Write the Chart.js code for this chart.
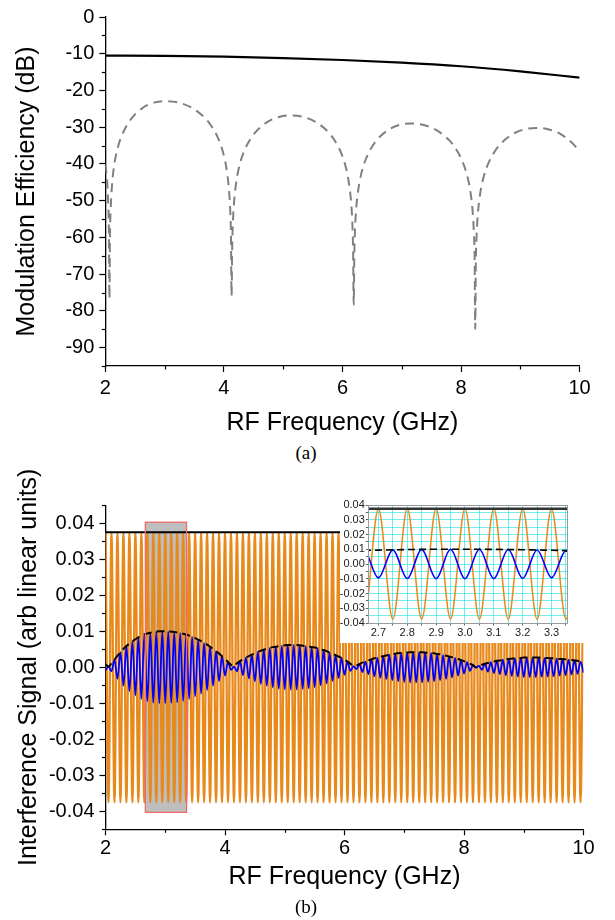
<!DOCTYPE html>
<html><head><meta charset="utf-8">
<script src="https://cdn.jsdelivr.net/npm/chart.js@4.4.1/dist/chart.umd.min.js"></script>
<style>
html,body{margin:0;padding:0;background:#fff;}
body{width:615px;height:920px;overflow:hidden;position:relative}
canvas{position:absolute;display:block}
#cTop{left:0;top:0}
#cBot{left:0;top:470px}
#cIn{left:340px;top:490px;background:#fff}
.cap{position:absolute;font-family:"Liberation Serif","Times New Roman",serif;font-size:19px;color:#000;width:60px;text-align:center;line-height:20px}
</style></head><body>
<canvas id="cTop" width="615" height="440"></canvas>
<div class="cap" style="left:276px;top:443px">(a)</div>
<canvas id="cBot" width="615" height="430"></canvas>
<canvas id="cIn" width="275" height="153"></canvas>
<div class="cap" style="left:276px;top:897px">(b)</div>
<script>
// ---------- (a) Modulation efficiency ----------
const solidFreq = [2, 3, 4, 5, 6, 7, 8, 9, 10];
const solidDb = [-10.5, -10.6, -10.8, -11.2, -11.7, -12.4, -13.4, -14.8, -16.5];

const dashFreq = [2.00,2.03,2.05,2.06,2.07,
 2.079,2.089,2.108,2.145,2.202,2.258,2.352,2.446,2.634,2.822,3.01,3.234,3.458,3.682,3.794,3.906,3.973,4.040,4.085,4.108,4.119,4.13,
 4.14,4.15,4.17,4.21,4.27,4.33,4.43,4.53,4.73,4.93,5.13,5.342,5.554,5.766,5.872,5.978,6.042,6.105,6.148,6.169,6.179,6.19,
 6.200,6.209,6.228,6.267,6.324,6.382,6.478,6.574,6.766,6.958,7.15,7.368,7.586,7.804,7.913,8.022,8.087,8.153,8.196,8.218,8.229,8.24,
 8.250,8.261,8.281,8.322,8.384,8.446,8.549,8.652,8.858,9.064,9.27,9.482,9.694,9.906,10.0];
const dashDb = [-40.2,-44.5,-51,-57,-76.6,
 -59.0,-53.0,-46.9,-40.9,-36.1,-33.1,-29.8,-27.5,-24.7,-23.3,-22.9,-23.3,-24.7,-27.5,-29.8,-33.1,-36.1,-40.9,-46.9,-53.0,-59.0,-75.9,
 -62.9,-56.9,-50.8,-44.8,-40.0,-37.0,-33.7,-31.4,-28.6,-27.2,-26.8,-27.2,-28.6,-31.4,-33.7,-37.0,-40.0,-44.8,-50.8,-56.9,-62.9,-78.3,
 -65.1,-59.1,-53.0,-47.0,-42.2,-39.2,-35.9,-33.6,-30.8,-29.4,-29.0,-29.4,-30.8,-33.6,-35.9,-39.2,-42.2,-47.0,-53.0,-59.1,-65.1,-84.9,
 -66.3,-60.3,-54.2,-48.2,-43.4,-40.4,-37.1,-34.8,-32.0,-30.6,-30.2,-30.6,-32.0,-34.8,-36.7];

const topXTicks = [2, 4, 6, 8, 10];
const topXMinor = [3, 5, 7, 9];
const topYTicks = [0, -10, -20, -30, -40, -50, -60, -70, -80, -90];
const topYMinor = [-5, -15, -25, -35, -45, -55, -65, -75, -85, -95];

// ---------- (b) Interference signal ----------
const freqGHz = [
 2.00,2.05,2.10,2.15,2.20,2.25,2.30,2.35,2.40,2.45,2.50,2.55,2.60,2.65,2.70,2.75,2.80,2.85,2.90,2.95,
 3.00,3.05,3.10,3.15,3.20,3.25,3.30,3.35,3.40,3.45,3.50,3.55,3.60,3.65,3.70,3.75,3.80,3.85,3.90,3.95,
 4.00,4.05,4.10,4.15,4.20,4.25,4.30,4.35,4.40,4.45,4.50,4.55,4.60,4.65,4.70,4.75,4.80,4.85,4.90,4.95,
 5.00,5.05,5.10,5.15,5.20,5.25,5.30,5.35,5.40,5.45,5.50,5.55,5.60,5.65,5.70,5.75,5.80,5.85,5.90,5.95,
 6.00,6.05,6.10,6.15,6.20,6.25,6.30,6.35,6.40,6.45,6.50,6.55,6.60,6.65,6.70,6.75,6.80,6.85,6.90,6.95,
 7.00,7.05,7.10,7.15,7.20,7.25,7.30,7.35,7.40,7.45,7.50,7.55,7.60,7.65,7.70,7.75,7.80,7.85,7.90,7.95,
 8.00,8.05,8.10,8.15,8.20,8.25,8.30,8.35,8.40,8.45,8.50,8.55,8.60,8.65,8.70,8.75,8.80,8.85,8.90,8.95,
 9.00,9.05,9.10,9.15,9.20,9.25,9.30,9.35,9.40,9.45,9.50,9.55,9.60,9.65,9.70,9.75,9.80,9.85,9.90,9.95,
 10.00];

// orange trace: extremes of the reference arm signal
const orangeSig = [
 0.0375,-0.0375,0.0375,-0.0375,0.0375,-0.0375,0.0375,-0.0375,0.0375,-0.0375,0.0375,-0.0375,0.0375,-0.0375,0.0375,-0.0375,0.0375,-0.0375,0.0375,-0.0375,
 0.0375,-0.0375,0.0375,-0.0375,0.0375,-0.0375,0.0375,-0.0375,0.0375,-0.0375,0.0375,-0.0375,0.0375,-0.0375,0.0375,-0.0375,0.0375,-0.0375,0.0375,-0.0375,
 0.0375,-0.0375,0.0375,-0.0375,0.0375,-0.0375,0.0375,-0.0375,0.0375,-0.0375,0.0375,-0.0375,0.0375,-0.0375,0.0375,-0.0375,0.0375,-0.0375,0.0375,-0.0375,
 0.0375,-0.0375,0.0375,-0.0375,0.0375,-0.0375,0.0375,-0.0375,0.0375,-0.0375,0.0375,-0.0375,0.0375,-0.0375,0.0375,-0.0375,0.0375,-0.0375,0.0375,-0.0375,
 0.0375,-0.0375,0.0375,-0.0375,0.0375,-0.0375,0.0375,-0.0375,0.0375,-0.0375,0.0375,-0.0375,0.0375,-0.0375,0.0375,-0.0375,0.0375,-0.0375,0.0375,-0.0375,
 0.0375,-0.0375,0.0375,-0.0375,0.0375,-0.0375,0.0375,-0.0375,0.0375,-0.0375,0.0375,-0.0375,0.0375,-0.0375,0.0375,-0.0375,0.0375,-0.0375,0.0375,-0.0375,
 0.0375,-0.0375,0.0375,-0.0375,0.0375,-0.0375,0.0375,-0.0375,0.0375,-0.0375,0.0375,-0.0375,0.0375,-0.0375,0.0375,-0.0375,0.0375,-0.0375,0.0375,-0.0375,
 0.0375,-0.0375,0.0375,-0.0375,0.0375,-0.0375,0.0375,-0.0375,0.0375,-0.0375,0.0375,-0.0375,0.0375,-0.0375,0.0375,-0.0375,0.0375,-0.0375,0.0375,-0.0375,
 0.0375];

// blue trace: extremes of the interference signal
const blueSig = [
 -0.0008,0.0002,-0.0011,0.0021,-0.0032,0.0042,-0.0051,0.0059,-0.0066,0.0072,-0.0078,0.0083,-0.0088,0.0092,-0.0094,0.0096,-0.0098,0.0099,-0.0100,0.0100,
 -0.0100,0.0100,-0.0099,0.0098,-0.0097,0.0095,-0.0093,0.0091,-0.0088,0.0085,-0.0081,0.0077,-0.0073,0.0068,-0.0063,0.0057,-0.0051,0.0045,-0.0038,0.0031,
 -0.0023,0.0015,-0.0007,0.0002,-0.0011,0.0017,-0.0022,0.0027,-0.0031,0.0035,-0.0039,0.0043,-0.0046,0.0049,-0.0051,0.0054,-0.0056,0.0057,-0.0059,0.0060,
 -0.0061,0.0062,-0.0062,0.0062,-0.0062,0.0061,-0.0060,0.0059,-0.0058,0.0056,-0.0055,0.0053,-0.0050,0.0048,-0.0045,0.0041,-0.0038,0.0034,-0.0030,0.0026,
 -0.0021,0.0016,-0.0010,0.0003,-0.0005,0.0009,-0.0013,0.0016,-0.0019,0.0022,-0.0025,0.0027,-0.0029,0.0031,-0.0033,0.0035,-0.0036,0.0038,-0.0039,0.0040,
 -0.0041,0.0041,-0.0042,0.0042,-0.0042,0.0042,-0.0042,0.0041,-0.0040,0.0040,-0.0039,0.0037,-0.0036,0.0034,-0.0032,0.0030,-0.0028,0.0026,-0.0023,0.0020,
 -0.0017,0.0014,-0.0010,0.0006,-0.0001,0.0004,-0.0007,0.0010,-0.0012,0.0014,-0.0016,0.0018,-0.0019,0.0021,-0.0022,0.0023,-0.0024,0.0025,-0.0026,0.0026,
 -0.0027,0.0027,-0.0027,0.0027,-0.0027,0.0027,-0.0026,0.0026,-0.0026,0.0025,-0.0025,0.0024,-0.0023,0.0023,-0.0022,0.0021,-0.0020,0.0019,-0.0018,0.0016,
 -0.0015];

// black dashed envelope of the blue trace
const envelope = [
 0.0008,0.0002,0.0011,0.0021,0.0032,0.0042,0.0051,0.0059,0.0066,0.0072,0.0078,0.0083,0.0088,0.0092,0.0094,0.0096,0.0098,0.0099,0.0100,0.0100,
 0.0100,0.0100,0.0099,0.0098,0.0097,0.0095,0.0093,0.0091,0.0088,0.0085,0.0081,0.0077,0.0073,0.0068,0.0063,0.0057,0.0051,0.0045,0.0038,0.0031,
 0.0023,0.0015,0.0007,0.0002,0.0011,0.0017,0.0022,0.0027,0.0031,0.0035,0.0039,0.0043,0.0046,0.0049,0.0051,0.0054,0.0056,0.0057,0.0059,0.0060,
 0.0061,0.0062,0.0062,0.0062,0.0062,0.0061,0.0060,0.0059,0.0058,0.0056,0.0055,0.0053,0.0050,0.0048,0.0045,0.0041,0.0038,0.0034,0.0030,0.0026,
 0.0021,0.0016,0.0010,0.0003,0.0005,0.0009,0.0013,0.0016,0.0019,0.0022,0.0025,0.0027,0.0029,0.0031,0.0033,0.0035,0.0036,0.0038,0.0039,0.0040,
 0.0041,0.0041,0.0042,0.0042,0.0042,0.0042,0.0042,0.0041,0.0040,0.0040,0.0039,0.0037,0.0036,0.0034,0.0032,0.0030,0.0028,0.0026,0.0023,0.0020,
 0.0017,0.0014,0.0010,0.0006,0.0000,0.0004,0.0007,0.0010,0.0012,0.0014,0.0016,0.0018,0.0019,0.0021,0.0022,0.0023,0.0024,0.0025,0.0026,0.0026,
 0.0027,0.0027,0.0027,0.0027,0.0027,0.0027,0.0026,0.0026,0.0026,0.0025,0.0025,0.0024,0.0023,0.0023,0.0022,0.0021,0.0020,0.0019,0.0018,0.0016,
 0.0015];

// black solid level line
const levelFreq = [2, 10];
const levelSig = [0.0375, 0.0375];

// highlighted (zoomed) region
const boxFreq = [2.667, 3.357];
const boxSig = [-0.0403, 0.0403];

const botXTicks = [2, 4, 6, 8, 10];
const botXMinor = [3, 5, 7, 9];
const botYTicks = [0.04, 0.03, 0.02, 0.01, 0, -0.01, -0.02, -0.03, -0.04];
const botYMinor = [0.045, 0.035, 0.025, 0.015, 0.005, -0.005, -0.015, -0.025, -0.035, -0.045];

// inset
const insetXRange = [2.665, 3.355];
const insetYRange = [-0.04, 0.04];
const insetXGrid = [2.70,2.75,2.80,2.85,2.90,2.95,3.00,3.05,3.10,3.15,3.20,3.25,3.30,3.35];
const insetXLabels = [2.7, 2.8, 2.9, 3.0, 3.1, 3.2, 3.3];
const insetYGrid = [0.04,0.035,0.03,0.025,0.02,0.015,0.01,0.005,0,-0.005,-0.01,-0.015,-0.02,-0.025,-0.03,-0.035,-0.04];
const insetYLabels = [0.04,0.03,0.02,0.01,0,-0.01,-0.02,-0.03,-0.04];

// ---------- rendering ----------
const FAMILY = "'Liberation Sans', Arial, Helvetica, sans-serif";
Chart.defaults.font.family = FAMILY;
Chart.defaults.color = '#000';

const pts = (xs, ys) => xs.map((x, i) => ({x: x, y: ys[i]}));
const near = (arr, v) => arr.some(a => Math.abs(a - v) < 1e-6);

const minorTicksPlugin = {
  id: 'minorTicks',
  afterDraw(chart, args, o) {
    const {ctx, scales} = chart;
    ctx.save();
    ctx.strokeStyle = o.color || '#000';
    ctx.lineWidth = o.width || 1.2;
    (o.x || []).forEach(v => {
      const px = Math.round(scales.x.getPixelForValue(v)) + 0.5;
      ctx.beginPath(); ctx.moveTo(px, scales.x.top); ctx.lineTo(px, scales.x.top + o.len); ctx.stroke();
    });
    (o.y || []).forEach(v => {
      const py = Math.round(scales.y.getPixelForValue(v)) + 0.5;
      ctx.beginPath(); ctx.moveTo(scales.y.right, py); ctx.lineTo(scales.y.right - o.len, py); ctx.stroke();
    });
    ctx.restore();
  }
};

const zoomBoxPlugin = {
  id: 'zoomBox',
  beforeDatasetsDraw(chart, args, o) {
    if (!o.x) return;
    const {ctx, scales} = chart;
    const x0 = scales.x.getPixelForValue(o.x[0]), x1 = scales.x.getPixelForValue(o.x[1]);
    const y0 = scales.y.getPixelForValue(o.y[1]), y1 = scales.y.getPixelForValue(o.y[0]);
    ctx.save(); ctx.fillStyle = o.fill; ctx.fillRect(x0, y0, x1 - x0, y1 - y0); ctx.restore();
  },
  afterDatasetsDraw(chart, args, o) {
    if (!o.x) return;
    const {ctx, scales} = chart;
    const x0 = scales.x.getPixelForValue(o.x[0]), x1 = scales.x.getPixelForValue(o.x[1]);
    const y0 = scales.y.getPixelForValue(o.y[1]), y1 = scales.y.getPixelForValue(o.y[0]);
    ctx.save(); ctx.strokeStyle = o.stroke; ctx.lineWidth = 1.3; ctx.strokeRect(x0, y0, x1 - x0, y1 - y0); ctx.restore();
  }
};

const framePlugin = {
  id: 'frame',
  afterDraw(chart, args, o) {
    if (!o.color) return;
    const {ctx, chartArea: a} = chart;
    ctx.save(); ctx.strokeStyle = o.color; ctx.lineWidth = 1;
    ctx.strokeRect(Math.round(a.left) + 0.5, Math.round(a.top) + 0.5, Math.round(a.right - a.left), Math.round(a.bottom - a.top));
    ctx.restore();
  }
};

function mainAxes(cfg) {
  return {
    x: {
      type: 'linear', min: 2, max: 10,
      afterBuildTicks: s => { s.ticks = cfg.xTicks.map(v => ({value: v})); },
      afterFit: s => { s.height = cfg.xHeight; },
      grid: {drawOnChartArea: false, drawTicks: true, tickLength: 6, tickWidth: 1.2, tickColor: '#000'},
      border: {display: true, color: '#000', width: 1.3},
      ticks: {padding: cfg.xPad, autoSkip: false, maxRotation: 0, color: '#000', font: {size: 20}, callback: v => String(v)},
      title: {display: true, text: 'RF Frequency (GHz)', color: '#000', font: {size: 25}, padding: {top: 0, bottom: cfg.xTitlePad}}
    },
    y: {
      type: 'linear', min: cfg.yMin, max: cfg.yMax,
      afterBuildTicks: s => { s.ticks = cfg.yTicks.map(v => ({value: v})); },
      afterFit: s => { s.width = cfg.yWidth; },
      grid: {drawOnChartArea: false, drawTicks: true, tickLength: 6, tickWidth: 1.2, tickColor: '#000'},
      border: {display: true, color: '#000', width: 1.3},
      ticks: {padding: 5, autoSkip: false, color: '#000', font: {size: 20}, callback: cfg.yFmt},
      title: {display: true, text: cfg.yTitle, color: '#000', font: {size: 25}, padding: {top: cfg.yTitlePad, bottom: 0}}
    }
  };
}

// (a)
new Chart(document.getElementById('cTop'), {
  type: 'scatter',
  data: {datasets: [
    {data: pts(solidFreq, solidDb), showLine: true, borderColor: '#000', borderWidth: 2.2, pointRadius: 0, cubicInterpolationMode: 'monotone'},
    {data: pts(dashFreq, dashDb), showLine: true, borderColor: '#808080', borderWidth: 2, borderDash: [9, 6], pointRadius: 0, cubicInterpolationMode: 'monotone'}
  ]},
  options: {
    responsive: false, animation: false, devicePixelRatio: 1,
    layout: {padding: {left: 0, right: 35.4, top: 14.3, bottom: 0}},
    plugins: {legend: {display: false}, tooltip: {enabled: false},
      minorTicks: {x: topXMinor, y: topYMinor, len: 3.5}},
    scales: mainAxes({xTicks: topXTicks, xHeight: 74, xPad: 4, xTitlePad: 2.3,
      yMin: -95, yMax: 0, yTicks: topYTicks, yWidth: 105.3, yTitle: 'Modulation Efficiency (dB)', yTitlePad: 12.5,
      yFmt: v => String(v)})
  },
  plugins: [minorTicksPlugin]
});

// (b)
new Chart(document.getElementById('cBot'), {
  type: 'scatter',
  data: {datasets: [
    {data: pts(levelFreq, levelSig), showLine: true, borderColor: '#000', borderWidth: 2, pointRadius: 0},
    {data: pts(freqGHz, envelope), showLine: true, borderColor: '#000', borderWidth: 2, borderDash: [8, 5], pointRadius: 0, cubicInterpolationMode: 'monotone'},
    {data: pts(freqGHz, blueSig), showLine: true, borderColor: '#0000ff', borderWidth: 1.8, pointRadius: 0, cubicInterpolationMode: 'monotone'},
    {data: pts(freqGHz, orangeSig), showLine: true, borderColor: '#e8891c', borderWidth: 2.3, pointRadius: 0, cubicInterpolationMode: 'monotone'}
  ]},
  options: {
    responsive: false, animation: false, devicePixelRatio: 1,
    layout: {padding: {left: 0, right: 31.5, top: 35.3, bottom: 0}},
    plugins: {legend: {display: false}, tooltip: {enabled: false},
      minorTicks: {x: botXMinor, y: botYMinor, len: 3.5},
      zoomBox: {x: boxFreq, y: boxSig, fill: '#bebebe', stroke: '#f06a6a'}},
    scales: mainAxes({xTicks: botXTicks, xHeight: 70.7, xPad: 1, xTitlePad: 8.3,
      yMin: -0.045, yMax: 0.045, yTicks: botYTicks, yWidth: 105.5, yTitle: 'Interference Signal (arb linear units)', yTitlePad: 14.5,
      yFmt: v => Number(v).toFixed(2)})
  },
  plugins: [minorTicksPlugin, zoomBoxPlugin]
});

// inset
new Chart(document.getElementById('cIn'), {
  type: 'scatter',
  data: {datasets: [
    {data: pts(levelFreq, levelSig), showLine: true, borderColor: '#333', borderWidth: 2.6, pointRadius: 0},
    {data: pts(freqGHz, envelope), showLine: true, borderColor: '#000', borderWidth: 1.6, borderDash: [7, 4], pointRadius: 0, cubicInterpolationMode: 'monotone'},
    {data: pts(freqGHz, blueSig), showLine: true, borderColor: '#0000ff', borderWidth: 1.6, pointRadius: 0, cubicInterpolationMode: 'monotone'},
    {data: pts(freqGHz, orangeSig), showLine: true, borderColor: '#e8891c', borderWidth: 1.5, pointRadius: 0, cubicInterpolationMode: 'monotone'}
  ]},
  options: {
    responsive: false, animation: false, devicePixelRatio: 1,
    layout: {padding: {left: 0, right: 47.6, top: 15, bottom: 0}},
    plugins: {legend: {display: false}, tooltip: {enabled: false}, frame: {color: '#9a9a9a'}},
    scales: {
      x: {type: 'linear', min: insetXRange[0], max: insetXRange[1],
        afterBuildTicks: s => { s.ticks = insetXGrid.map(v => ({value: v})); },
        afterFit: s => { s.height = 20; },
        grid: {color: 'rgba(0,220,220,0.55)', lineWidth: 1, drawOnChartArea: true, tickLength: 2.5, tickColor: '#666'},
        border: {display: true, color: '#888', width: 1},
        ticks: {padding: 1, autoSkip: false, maxRotation: 0, color: '#222', font: {size: 11},
          callback: v => near(insetXLabels, v) ? Number(v).toFixed(1) : ''}},
      y: {type: 'linear', min: insetYRange[0], max: insetYRange[1],
        afterBuildTicks: s => { s.ticks = insetYGrid.map(v => ({value: v})); },
        afterFit: s => { s.width = 28.3; },
        grid: {color: 'rgba(0,220,220,0.55)', lineWidth: 1, drawOnChartArea: true, tickLength: 2.5, tickColor: '#666'},
        border: {display: true, color: '#888', width: 1},
        ticks: {padding: 1, autoSkip: false, color: '#222', font: {size: 11},
          callback: v => near(insetYLabels, v) ? Number(v).toFixed(2) : ''}}
    }
  },
  plugins: [framePlugin]
});
</script>
</body></html>
